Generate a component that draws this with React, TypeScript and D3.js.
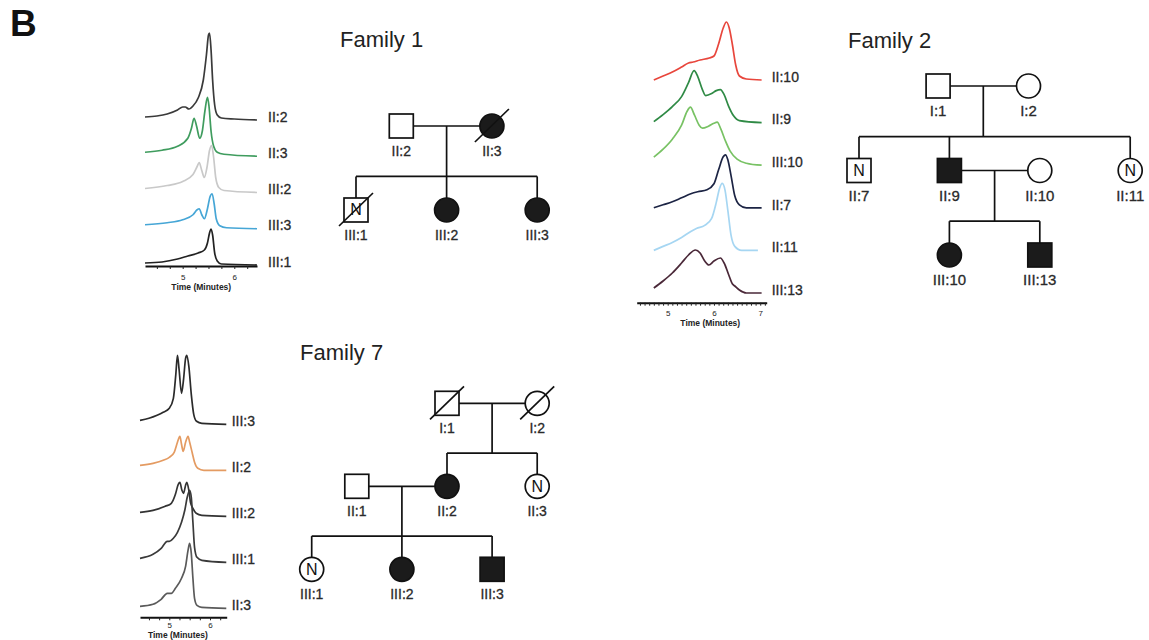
import { useRef, useEffect } from 'react';
import * as d3 from 'd3';

// ---- chromatogram data: [time (min), signal] per trace ----
const f1Names = ['II:2', 'II:3', 'III:2', 'III:3', 'III:1'];
const f1Colors = ['#3a3a3a', '#3f9c5e', '#c9c9c9', '#46a6d6', '#222222'];
const f1II2 = [[4.27, 3], [4.5, 4], [4.7, 6], [4.9, 10], [5.0, 13], [5.05, 13], [5.12, 11], [5.2, 14], [5.3, 22], [5.4, 40], [5.46, 65], [5.5, 85], [5.52, 87], [5.55, 70], [5.58, 40], [5.62, 15], [5.67, 5], [5.75, 2], [6.0, 1], [6.44, 0]];
const f1II3 = [[4.27, 4], [4.6, 6], [4.9, 10], [5.1, 18], [5.17, 28], [5.22, 38], [5.27, 30], [5.33, 18], [5.38, 25], [5.43, 45], [5.48, 59], [5.51, 50], [5.55, 25], [5.6, 10], [5.67, 4], [5.8, 2], [6.44, 0]];
const f1III2 = [[4.27, 4], [4.7, 7], [5.0, 11], [5.2, 18], [5.28, 26], [5.32, 30], [5.37, 22], [5.42, 15], [5.47, 25], [5.52, 42], [5.56, 47], [5.6, 35], [5.64, 15], [5.7, 5], [5.8, 2], [6.44, 0]];
const f1III3 = [[4.27, 4], [4.7, 6], [5.0, 9], [5.2, 14], [5.28, 19], [5.32, 20], [5.37, 14], [5.42, 10], [5.48, 20], [5.53, 32], [5.57, 35], [5.61, 25], [5.65, 10], [5.72, 3], [5.85, 1], [6.44, 0]];
const f1III1 = [[4.27, 2], [4.6, 3], [4.9, 6], [5.1, 9], [5.3, 12], [5.42, 15], [5.48, 22], [5.52, 32], [5.55, 36], [5.58, 30], [5.62, 12], [5.67, 4], [5.75, 1], [6.44, 0]];

const f2Names = ['II:10', 'II:9', 'III:10', 'II:7', 'II:11', 'III:13'];
const f2Colors = ['#e8463c', '#2f8a45', '#78c264', '#1c2444', '#a6d6f2', '#4a2838'];
const f2II10 = [[4.7, 0], [4.9, 4], [5.1, 8], [5.3, 13], [5.45, 17], [5.55, 18], [5.7, 20], [5.9, 22], [6.0, 24], [6.1, 36], [6.2, 52], [6.27, 58], [6.33, 52], [6.4, 35], [6.47, 15], [6.55, 4], [6.7, 1], [7.03, 0]];
const f2II9 = [[4.7, 1], [4.9, 8], [5.1, 16], [5.3, 26], [5.45, 40], [5.57, 52], [5.65, 46], [5.75, 33], [5.82, 27], [5.95, 29], [6.05, 32], [6.14, 33], [6.22, 28], [6.32, 16], [6.42, 7], [6.55, 2], [7.03, 0]];
const f2III10 = [[4.7, 8], [4.9, 16], [5.1, 26], [5.3, 40], [5.42, 54], [5.49, 58], [5.58, 50], [5.68, 40], [5.75, 37], [5.88, 39], [6.0, 42], [6.07, 43], [6.15, 36], [6.25, 24], [6.35, 14], [6.5, 6], [6.7, 2], [7.03, 0]];
const f2II7 = [[4.7, 0], [4.9, 3], [5.1, 6], [5.3, 10], [5.5, 14], [5.65, 16], [5.85, 18], [6.0, 24], [6.1, 38], [6.2, 51], [6.25, 53], [6.3, 48], [6.37, 32], [6.45, 12], [6.55, 3], [6.7, 0], [7.03, 0]];
const f2II11 = [[4.7, 0], [4.9, 4], [5.1, 8], [5.3, 13], [5.5, 19], [5.62, 22], [5.8, 25], [5.95, 32], [6.05, 48], [6.12, 62], [6.18, 67], [6.24, 60], [6.3, 40], [6.37, 15], [6.45, 4], [6.6, 0], [6.95, 0]];
const f2III13 = [[4.7, 5], [4.9, 12], [5.1, 20], [5.3, 30], [5.45, 38], [5.6, 43], [5.7, 40], [5.8, 32], [5.89, 28], [6.0, 32], [6.14, 35], [6.22, 30], [6.32, 18], [6.4, 9], [6.45, 7], [6.55, 3], [6.7, 0], [7.03, 0]];

const f7Names = ['III:3', 'II:2', 'III:2', 'III:1', 'II:3'];
const f7Colors = ['#2b2b2b', '#e49b62', '#333333', '#3a3a3a', '#5a5a5a'];
const f7III3 = [[4.28, 4], [4.5, 6], [4.7, 9], [4.85, 12], [5.0, 16], [5.1, 26], [5.16, 50], [5.2, 69], [5.24, 55], [5.3, 31], [5.35, 45], [5.4, 66], [5.43, 69], [5.48, 58], [5.54, 30], [5.6, 10], [5.67, 3], [5.8, 1], [6.4, 0]];
const f7II2 = [[4.28, 5], [4.6, 7], [4.85, 10], [5.0, 13], [5.12, 18], [5.2, 28], [5.26, 34], [5.3, 26], [5.34, 19], [5.4, 28], [5.46, 34], [5.5, 28], [5.56, 18], [5.62, 8], [5.7, 2], [5.85, 0], [6.4, 0]];
const f7III2 = [[4.28, 4], [4.6, 6], [4.9, 10], [5.05, 13], [5.15, 22], [5.22, 32], [5.26, 34], [5.31, 26], [5.35, 23], [5.4, 31], [5.43, 34], [5.48, 26], [5.52, 14], [5.58, 8], [5.66, 3], [5.8, 1], [6.4, 0]];
const f7III1 = [[4.28, 4], [4.6, 8], [4.8, 14], [4.95, 21], [5.0, 21], [5.1, 24], [5.2, 30], [5.3, 40], [5.38, 52], [5.44, 65], [5.5, 72], [5.54, 65], [5.58, 40], [5.62, 15], [5.68, 5], [5.8, 2], [6.4, 0]];
const f7II3 = [[4.28, 2], [4.6, 4], [4.8, 9], [4.95, 15], [5.05, 15], [5.15, 20], [5.3, 30], [5.4, 42], [5.46, 58], [5.5, 65], [5.54, 55], [5.58, 30], [5.62, 10], [5.68, 3], [5.8, 1], [6.4, 0]];

// ---- pedigree data ----
// slot = column in the family grid, gen = generation row
const f1People = [
  { id: 'II:2', gen: 0, slot: 1, sex: 'm' },
  { id: 'II:3', gen: 0, slot: 3, sex: 'f', affected: true, deceased: true },
  { id: 'III:1', gen: 1, slot: 0, sex: 'm', normal: true, deceased: true },
  { id: 'III:2', gen: 1, slot: 2, sex: 'f', affected: true },
  { id: 'III:3', gen: 1, slot: 4, sex: 'f', affected: true },
];
const f1Unions = [{ a: 'II:2', b: 'II:3', kids: ['III:1', 'III:2', 'III:3'] }];

const f2People = [
  { id: 'I:1', gen: 0, slot: 1.75, sex: 'm' },
  { id: 'I:2', gen: 0, slot: 3.75, sex: 'f' },
  { id: 'II:7', gen: 1, slot: 0, sex: 'm', normal: true },
  { id: 'II:9', gen: 1, slot: 2, sex: 'm', affected: true },
  { id: 'II:10', gen: 1, slot: 4, sex: 'f' },
  { id: 'II:11', gen: 1, slot: 6, sex: 'f', normal: true },
  { id: 'III:10', gen: 2, slot: 2, sex: 'f', affected: true },
  { id: 'III:13', gen: 2, slot: 4, sex: 'm', affected: true },
];
const f2Unions = [
  { a: 'I:1', b: 'I:2', kids: ['II:7', 'II:9', 'II:11'] },
  { a: 'II:9', b: 'II:10', kids: ['III:10', 'III:13'] },
];

const f7People = [
  { id: 'I:1', gen: 0, slot: 3, sex: 'm', deceased: true },
  { id: 'I:2', gen: 0, slot: 5, sex: 'f', deceased: true },
  { id: 'II:1', gen: 1, slot: 1, sex: 'm' },
  { id: 'II:2', gen: 1, slot: 3, sex: 'f', affected: true },
  { id: 'II:3', gen: 1, slot: 5, sex: 'f', normal: true },
  { id: 'III:1', gen: 2, slot: 0, sex: 'f', normal: true },
  { id: 'III:2', gen: 2, slot: 2, sex: 'f', affected: true },
  { id: 'III:3', gen: 2, slot: 4, sex: 'm', affected: true },
];
const f7Unions = [
  { a: 'I:1', b: 'I:2', kids: ['II:2', 'II:3'] },
  { a: 'II:1', b: 'II:2', kids: ['III:1', 'III:2', 'III:3'] },
];

const FONT = 'Liberation Sans, Arial, Helvetica, sans-serif';

function Chromatogram({ names, colors, traces, domain, range, top, bottom, axisY, tickStep, tickPad, titleAt, titleDy, labelGap }) {
  const axisRef = useRef(null);
  const x = d3.scaleLinear().domain(domain).range(range);
  const row = d3.scalePoint().domain(names).range([top, bottom]);
  const h = d3.scaleLinear().domain([0, 100]).range([0, 100]);

  useEffect(() => {
    const g = d3.select(axisRef.current);
    g.selectAll('*').remove();
    const first = Math.ceil(domain[0] / tickStep) * tickStep;
    const vals = d3.range(first, domain[1] + 1e-6, tickStep);
    const axis = d3.axisBottom(x)
      .tickValues(vals)
      .tickSize(3)
      .tickSizeOuter(0)
      .tickPadding(tickPad)
      .tickFormat(d => (Math.abs(d - Math.round(d)) < 1e-6 ? String(Math.round(d)) : ''));
    g.call(axis);
    g.select('.domain').attr('stroke-width', 2).attr('stroke', '#111');
    g.selectAll('.tick line').attr('stroke', '#222');
    g.selectAll('.tick text').attr('font-size', 8).attr('font-family', FONT).attr('fill', '#222');
  }, [domain, range, tickStep, tickPad]);

  return (
    <g>
      {traces.map((pts, i) => {
        const base = row(names[i]);
        const line = d3.line()
          .x(d => x(d[0]))
          .y(d => base - h(d[1]))
          .curve(d3.curveMonotoneX);
        return (
          <g key={names[i]}>
            <path d={line(pts)} fill="none" stroke={colors[i]} strokeWidth={1.7} strokeLinejoin="round" />
            <text x={range[1] + labelGap} y={base - 2} dominantBaseline="middle" fontSize={14}
              fontFamily={FONT} fill="#2a2a2a" stroke="#2a2a2a" strokeWidth={0.3}>{names[i]}</text>
          </g>
        );
      })}
      <g ref={axisRef} transform={`translate(0,${axisY})`} />
      <text x={x(titleAt)} y={axisY + titleDy} textAnchor="middle" dominantBaseline="middle"
        fontSize={8.5} fontWeight="bold" fontFamily={FONT} fill="#222">Time (Minutes)</text>
    </g>
  );
}

function Pedigree({ title, titlePos, people, unions, x0, step, gens, labelSize }) {
  const x = d3.scaleLinear().domain([0, 1]).range([x0, x0 + step]);
  const y = d3.scaleLinear().domain([0, gens.length - 1]).range([gens[0], gens[gens.length - 1]]);
  const genStep = gens.length > 1 ? y(1) - y(0) : 84;
  const byId = new Map(people.map(p => [p.id, p]));
  const r = 12;

  return (
    <g>
      <text x={titlePos[0]} y={titlePos[1]} fontSize={22} fontFamily={FONT} fill="#222">{title}</text>
      {unions.map(u => {
        const a = byId.get(u.a);
        const b = byId.get(u.b);
        const ya = y(a.gen);
        const mid = (x(a.slot) + x(b.slot)) / 2;
        const sibY = ya + genStep * 0.6;
        const kids = u.kids.map(k => byId.get(k));
        const kx = kids.map(k => x(k.slot));
        return (
          <g key={u.a + u.b} stroke="#111" strokeWidth={1.7} fill="none">
            <line x1={x(a.slot)} x2={x(b.slot)} y1={ya} y2={ya} />
            <line x1={mid} x2={mid} y1={ya} y2={sibY} />
            <line x1={Math.min(...kx, mid)} x2={Math.max(...kx, mid)} y1={sibY} y2={sibY} />
            {kids.map(k => (
              <line key={k.id} x1={x(k.slot)} x2={x(k.slot)} y1={sibY} y2={y(k.gen) - r} />
            ))}
          </g>
        );
      })}
      {people.map(p => {
        const cx = x(p.slot);
        const cy = y(p.gen);
        const fill = p.affected ? '#1b1b1b' : '#fff';
        return (
          <g key={p.id}>
            {p.sex === 'm'
              ? <rect x={cx - r} y={cy - r} width={2 * r} height={2 * r} fill={fill} stroke="#111" strokeWidth={1.7} />
              : <circle cx={cx} cy={cy} r={r} fill={fill} stroke="#111" strokeWidth={1.7} />}
            {p.normal && (
              <text x={cx} y={cy + 1} textAnchor="middle" dominantBaseline="middle" fontSize={16}
                fontFamily={FONT} fill="#111">N</text>
            )}
            {p.deceased && (
              <line x1={cx - 17} y1={cy + 16} x2={cx + 17} y2={cy - 17} stroke="#111" strokeWidth={1.7} />
            )}
            <text x={cx} y={cy + 30} textAnchor="middle" fontSize={labelSize} fontFamily={FONT}
              fill="#2a2a2a" stroke="#2a2a2a" strokeWidth={0.3}>{p.id}</text>
          </g>
        );
      })}
    </g>
  );
}

export default function App() {
  return (
    <svg width={1149} height={640} style={{ position: 'absolute', left: 0, top: 0, background: '#fff' }}>
      <text x={10} y={36} fontSize={37} fontWeight="bold" fontFamily={FONT} fill="#111">B</text>

      <Chromatogram names={f1Names} colors={f1Colors}
        traces={[f1II2, f1II3, f1III2, f1III3, f1III1]}
        domain={[4.27, 6.44]} range={[145, 257]} top={120} bottom={265}
        axisY={266} tickStep={0.25} tickPad={5} titleAt={5.36} titleDy={22} labelGap={11} />
      <Pedigree title="Family 1" titlePos={[340, 47]} people={f1People} unions={f1Unions}
        x0={356} step={45.3} gens={[126, 210]} labelSize={14} />

      <Chromatogram names={f2Names} colors={f2Colors}
        traces={[f2II10, f2II9, f2III10, f2II7, f2II11, f2III13]}
        domain={[4.33, 7.14]} range={[636.7, 766.7]} top={80} bottom={293}
        axisY={302.7} tickStep={0.1} tickPad={5} titleAt={5.92} titleDy={21} labelGap={5} />
      <Pedigree title="Family 2" titlePos={[848, 48]} people={f2People} unions={f2Unions}
        x0={859} step={45.2} gens={[86, 171, 255]} labelSize={15} />

      <Chromatogram names={f7Names} colors={f7Colors}
        traces={[f7III3, f7II2, f7III2, f7III1, f7II3]}
        domain={[4.28, 6.41]} range={[140, 226.7]} top={424.3} bottom={608.3}
        axisY={617.3} tickStep={0.25} tickPad={2} titleAt={5.21} titleDy={18.5} labelGap={5} />
      <Pedigree title="Family 7" titlePos={[300, 360]} people={f7People} unions={f7Unions}
        x0={311.7} step={45.1} gens={[403.3, 485.7, 569.3]} labelSize={14} />
    </svg>
  );
}
